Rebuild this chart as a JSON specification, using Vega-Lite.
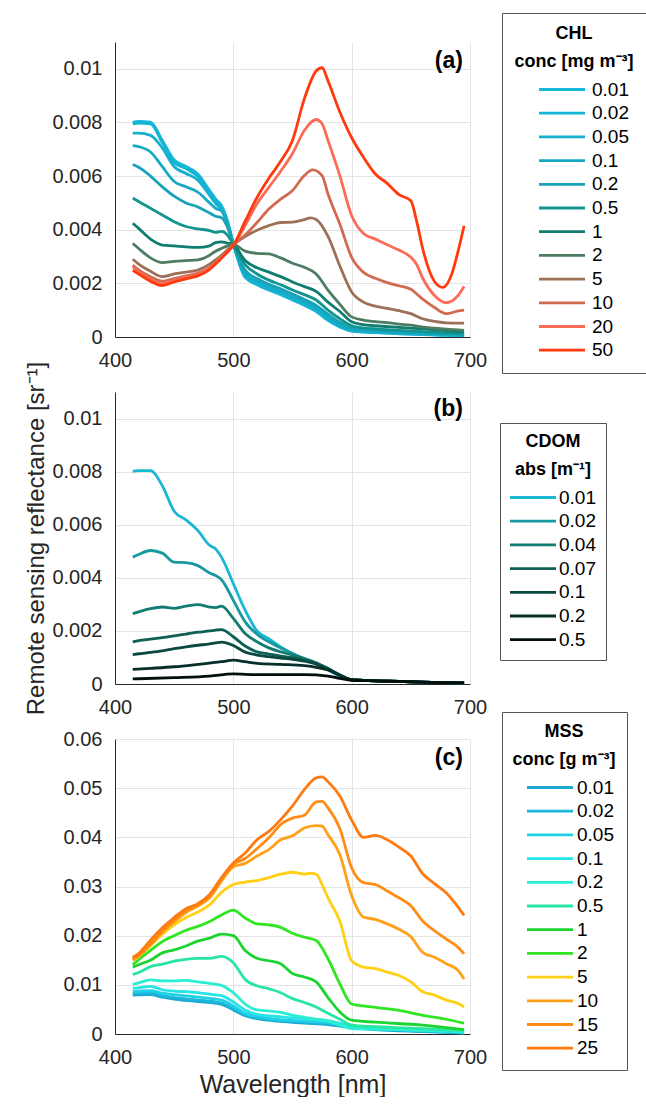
{
  "$schema": "https://vega.github.io/schema/vega-lite/v6.json",
  "background": "white",
  "padding": {"left": 24, "top": 12, "right": 0, "bottom": 0},
  "config": {
    "font": "Liberation Sans",
    "view": {"stroke": null},
    "axis": {
      "labelFont": "Liberation Sans", "labelFontSize": 20, "labelColor": "#262626", "labelFlush": false,
      "domainColor": "#262626", "domainWidth": 1, "gridColor": "#e4e4e4", "ticks": false,
      "labelPadding": 13, "titleFont": "Liberation Sans", "titleFontWeight": "normal",
      "titleColor": "#262626", "titleFontSize": 25
    },
    "legend": {
      "titleFont": "Liberation Sans", "titleFontSize": 18, "titleFontWeight": "bold", "titleColor": "#000000",
      "titleAnchor": "middle", "titleAlign": "center", "titleLineHeight": 28, "titlePadding": 9,
      "labelFont": "Liberation Sans", "labelFontSize": 19, "labelColor": "#000000",
      "strokeColor": "#555555", "fillColor": "white", "rowPadding": 3.7,
      "symbolType": "M-1.9,0H7.3", "symbolSize": 100, "symbolStrokeWidth": 3
    },
    "line": {"strokeWidth": 2.8, "interpolate": "monotone"}
  },
  "datasets": {
    "chl": [
      {"s":"0.01","w":415,"r":0.008},{"s":"0.01","w":420,"r":0.00804},{"s":"0.01","w":430,"r":0.00801},{"s":"0.01","w":440,"r":0.00733},{"s":"0.01","w":450,"r":0.0066},{"s":"0.01","w":460,"r":0.00636},{"s":"0.01","w":470,"r":0.00608},{"s":"0.01","w":480,"r":0.00546},{"s":"0.01","w":485,"r":0.00515},{"s":"0.01","w":490,"r":0.0049},{"s":"0.01","w":495,"r":0.00434},{"s":"0.01","w":500,"r":0.00349},{"s":"0.01","w":510,"r":0.00222},{"s":"0.01","w":520,"r":0.00195},{"s":"0.01","w":530,"r":0.00175},{"s":"0.01","w":540,"r":0.00158},{"s":"0.01","w":550,"r":0.00138},{"s":"0.01","w":560,"r":0.00118},{"s":"0.01","w":570,"r":0.00095},{"s":"0.01","w":580,"r":0.00062},{"s":"0.01","w":590,"r":0.00037},{"s":"0.01","w":600,"r":0.00022},{"s":"0.01","w":620,"r":0.00016},{"s":"0.01","w":640,"r":0.00012},{"s":"0.01","w":660,"r":0.00009},{"s":"0.01","w":680,"r":0.00006},{"s":"0.01","w":695,"r":0.00005},
      {"s":"0.02","w":415,"r":0.00795},{"s":"0.02","w":420,"r":0.00798},{"s":"0.02","w":430,"r":0.00795},{"s":"0.02","w":440,"r":0.00725},{"s":"0.02","w":450,"r":0.0065},{"s":"0.02","w":460,"r":0.00628},{"s":"0.02","w":470,"r":0.00598},{"s":"0.02","w":480,"r":0.00538},{"s":"0.02","w":485,"r":0.00508},{"s":"0.02","w":490,"r":0.00484},{"s":"0.02","w":495,"r":0.0043},{"s":"0.02","w":500,"r":0.00348},{"s":"0.02","w":510,"r":0.00225},{"s":"0.02","w":520,"r":0.00198},{"s":"0.02","w":530,"r":0.00178},{"s":"0.02","w":540,"r":0.00161},{"s":"0.02","w":550,"r":0.00141},{"s":"0.02","w":560,"r":0.00121},{"s":"0.02","w":570,"r":0.00098},{"s":"0.02","w":580,"r":0.00064},{"s":"0.02","w":590,"r":0.00039},{"s":"0.02","w":600,"r":0.00023},{"s":"0.02","w":620,"r":0.00017},{"s":"0.02","w":640,"r":0.00013},{"s":"0.02","w":660,"r":0.0001},{"s":"0.02","w":680,"r":0.00007},{"s":"0.02","w":695,"r":0.00006},
      {"s":"0.05","w":415,"r":0.0076},{"s":"0.05","w":420,"r":0.0076},{"s":"0.05","w":430,"r":0.00752},{"s":"0.05","w":440,"r":0.00705},{"s":"0.05","w":450,"r":0.00635},{"s":"0.05","w":460,"r":0.0061},{"s":"0.05","w":470,"r":0.00585},{"s":"0.05","w":480,"r":0.00528},{"s":"0.05","w":485,"r":0.00498},{"s":"0.05","w":490,"r":0.00475},{"s":"0.05","w":495,"r":0.00425},{"s":"0.05","w":500,"r":0.00347},{"s":"0.05","w":510,"r":0.0023},{"s":"0.05","w":520,"r":0.00202},{"s":"0.05","w":530,"r":0.00182},{"s":"0.05","w":540,"r":0.00165},{"s":"0.05","w":550,"r":0.00145},{"s":"0.05","w":560,"r":0.00125},{"s":"0.05","w":570,"r":0.00102},{"s":"0.05","w":580,"r":0.00068},{"s":"0.05","w":590,"r":0.00042},{"s":"0.05","w":600,"r":0.00025},{"s":"0.05","w":620,"r":0.00019},{"s":"0.05","w":640,"r":0.00015},{"s":"0.05","w":660,"r":0.00011},{"s":"0.05","w":680,"r":0.00008},{"s":"0.05","w":695,"r":0.00007},
      {"s":"0.1","w":415,"r":0.00714},{"s":"0.1","w":420,"r":0.0071},{"s":"0.1","w":430,"r":0.0069},{"s":"0.1","w":440,"r":0.00635},{"s":"0.1","w":450,"r":0.0058},{"s":"0.1","w":460,"r":0.0056},{"s":"0.1","w":470,"r":0.0054},{"s":"0.1","w":480,"r":0.005},{"s":"0.1","w":485,"r":0.0048},{"s":"0.1","w":490,"r":0.0047},{"s":"0.1","w":495,"r":0.0042},{"s":"0.1","w":500,"r":0.00346},{"s":"0.1","w":510,"r":0.00238},{"s":"0.1","w":520,"r":0.00208},{"s":"0.1","w":530,"r":0.00188},{"s":"0.1","w":540,"r":0.0017},{"s":"0.1","w":550,"r":0.0015},{"s":"0.1","w":560,"r":0.0013},{"s":"0.1","w":570,"r":0.00108},{"s":"0.1","w":580,"r":0.00074},{"s":"0.1","w":590,"r":0.00046},{"s":"0.1","w":600,"r":0.00028},{"s":"0.1","w":620,"r":0.00021},{"s":"0.1","w":640,"r":0.00017},{"s":"0.1","w":660,"r":0.00013},{"s":"0.1","w":680,"r":0.00009},{"s":"0.1","w":695,"r":0.00008},
      {"s":"0.2","w":415,"r":0.00643},{"s":"0.2","w":420,"r":0.00633},{"s":"0.2","w":430,"r":0.006},{"s":"0.2","w":440,"r":0.0056},{"s":"0.2","w":450,"r":0.00525},{"s":"0.2","w":460,"r":0.005},{"s":"0.2","w":470,"r":0.00485},{"s":"0.2","w":480,"r":0.00462},{"s":"0.2","w":485,"r":0.0045},{"s":"0.2","w":490,"r":0.00445},{"s":"0.2","w":495,"r":0.0041},{"s":"0.2","w":500,"r":0.00345},{"s":"0.2","w":510,"r":0.0025},{"s":"0.2","w":520,"r":0.00218},{"s":"0.2","w":530,"r":0.00197},{"s":"0.2","w":540,"r":0.0018},{"s":"0.2","w":550,"r":0.0016},{"s":"0.2","w":560,"r":0.0014},{"s":"0.2","w":570,"r":0.00118},{"s":"0.2","w":580,"r":0.00085},{"s":"0.2","w":590,"r":0.00055},{"s":"0.2","w":600,"r":0.00033},{"s":"0.2","w":620,"r":0.00026},{"s":"0.2","w":640,"r":0.00021},{"s":"0.2","w":660,"r":0.00016},{"s":"0.2","w":680,"r":0.00012},{"s":"0.2","w":695,"r":0.0001},
      {"s":"0.5","w":415,"r":0.00518},{"s":"0.5","w":420,"r":0.00505},{"s":"0.5","w":430,"r":0.0048},{"s":"0.5","w":440,"r":0.00455},{"s":"0.5","w":450,"r":0.0043},{"s":"0.5","w":460,"r":0.00412},{"s":"0.5","w":470,"r":0.00403},{"s":"0.5","w":480,"r":0.00397},{"s":"0.5","w":485,"r":0.0039},{"s":"0.5","w":490,"r":0.00394},{"s":"0.5","w":495,"r":0.0038},{"s":"0.5","w":500,"r":0.00345},{"s":"0.5","w":510,"r":0.0027},{"s":"0.5","w":520,"r":0.00235},{"s":"0.5","w":530,"r":0.00212},{"s":"0.5","w":540,"r":0.00195},{"s":"0.5","w":550,"r":0.00175},{"s":"0.5","w":560,"r":0.00158},{"s":"0.5","w":570,"r":0.00138},{"s":"0.5","w":580,"r":0.001},{"s":"0.5","w":590,"r":0.00068},{"s":"0.5","w":600,"r":0.00042},{"s":"0.5","w":610,"r":0.00034},{"s":"0.5","w":620,"r":0.0003},{"s":"0.5","w":640,"r":0.00025},{"s":"0.5","w":660,"r":0.0002},{"s":"0.5","w":680,"r":0.00015},{"s":"0.5","w":695,"r":0.00013},
      {"s":"1","w":415,"r":0.00424},{"s":"1","w":420,"r":0.00405},{"s":"1","w":430,"r":0.00365},{"s":"1","w":440,"r":0.00343},{"s":"1","w":450,"r":0.0034},{"s":"1","w":460,"r":0.00336},{"s":"1","w":470,"r":0.00334},{"s":"1","w":480,"r":0.0034},{"s":"1","w":485,"r":0.00352},{"s":"1","w":490,"r":0.00355},{"s":"1","w":495,"r":0.0035},{"s":"1","w":500,"r":0.00345},{"s":"1","w":510,"r":0.00285},{"s":"1","w":520,"r":0.00258},{"s":"1","w":530,"r":0.00242},{"s":"1","w":540,"r":0.00225},{"s":"1","w":550,"r":0.00205},{"s":"1","w":560,"r":0.00188},{"s":"1","w":570,"r":0.0017},{"s":"1","w":580,"r":0.0013},{"s":"1","w":590,"r":0.00095},{"s":"1","w":600,"r":0.00057},{"s":"1","w":610,"r":0.00046},{"s":"1","w":620,"r":0.00042},{"s":"1","w":640,"r":0.00036},{"s":"1","w":660,"r":0.0003},{"s":"1","w":680,"r":0.00024},{"s":"1","w":695,"r":0.0002},
      {"s":"2","w":415,"r":0.00349},{"s":"2","w":420,"r":0.0033},{"s":"2","w":430,"r":0.00295},{"s":"2","w":440,"r":0.00277},{"s":"2","w":450,"r":0.00282},{"s":"2","w":460,"r":0.00285},{"s":"2","w":470,"r":0.00288},{"s":"2","w":480,"r":0.00305},{"s":"2","w":485,"r":0.0032},{"s":"2","w":490,"r":0.0033},{"s":"2","w":495,"r":0.0034},{"s":"2","w":500,"r":0.00345},{"s":"2","w":510,"r":0.0032},{"s":"2","w":520,"r":0.00312},{"s":"2","w":530,"r":0.0031},{"s":"2","w":540,"r":0.00295},{"s":"2","w":550,"r":0.00275},{"s":"2","w":560,"r":0.0026},{"s":"2","w":570,"r":0.00235},{"s":"2","w":580,"r":0.00175},{"s":"2","w":590,"r":0.00122},{"s":"2","w":600,"r":0.00075},{"s":"2","w":610,"r":0.00063},{"s":"2","w":620,"r":0.00057},{"s":"2","w":630,"r":0.00054},{"s":"2","w":640,"r":0.00048},{"s":"2","w":650,"r":0.00044},{"s":"2","w":660,"r":0.00037},{"s":"2","w":670,"r":0.00033},{"s":"2","w":680,"r":0.00029},{"s":"2","w":695,"r":0.00025},
      {"s":"5","w":415,"r":0.0029},{"s":"5","w":420,"r":0.00272},{"s":"5","w":430,"r":0.00245},{"s":"5","w":440,"r":0.00225},{"s":"5","w":450,"r":0.00235},{"s":"5","w":460,"r":0.00242},{"s":"5","w":470,"r":0.0025},{"s":"5","w":480,"r":0.00272},{"s":"5","w":485,"r":0.00288},{"s":"5","w":490,"r":0.00305},{"s":"5","w":495,"r":0.00325},{"s":"5","w":500,"r":0.00345},{"s":"5","w":510,"r":0.00375},{"s":"5","w":520,"r":0.00398},{"s":"5","w":530,"r":0.00415},{"s":"5","w":540,"r":0.00427},{"s":"5","w":550,"r":0.00428},{"s":"5","w":560,"r":0.00438},{"s":"5","w":565,"r":0.00444},{"s":"5","w":570,"r":0.00438},{"s":"5","w":580,"r":0.00375},{"s":"5","w":590,"r":0.00265},{"s":"5","w":600,"r":0.00168},{"s":"5","w":610,"r":0.0013},{"s":"5","w":620,"r":0.00115},{"s":"5","w":630,"r":0.00107},{"s":"5","w":640,"r":0.00098},{"s":"5","w":650,"r":0.00087},{"s":"5","w":660,"r":0.00068},{"s":"5","w":670,"r":0.00058},{"s":"5","w":680,"r":0.00053},{"s":"5","w":690,"r":0.00052},{"s":"5","w":695,"r":0.00052},
      {"s":"10","w":415,"r":0.00268},{"s":"10","w":420,"r":0.0025},{"s":"10","w":430,"r":0.00225},{"s":"10","w":440,"r":0.00208},{"s":"10","w":450,"r":0.00218},{"s":"10","w":460,"r":0.00228},{"s":"10","w":470,"r":0.00238},{"s":"10","w":480,"r":0.0026},{"s":"10","w":485,"r":0.00278},{"s":"10","w":490,"r":0.00298},{"s":"10","w":495,"r":0.0032},{"s":"10","w":500,"r":0.00343},{"s":"10","w":510,"r":0.0038},{"s":"10","w":520,"r":0.00427},{"s":"10","w":530,"r":0.00477},{"s":"10","w":540,"r":0.00514},{"s":"10","w":550,"r":0.00546},{"s":"10","w":560,"r":0.00602},{"s":"10","w":567,"r":0.00623},{"s":"10","w":575,"r":0.00602},{"s":"10","w":580,"r":0.00533},{"s":"10","w":590,"r":0.00421},{"s":"10","w":600,"r":0.00297},{"s":"10","w":610,"r":0.00241},{"s":"10","w":620,"r":0.00219},{"s":"10","w":630,"r":0.00203},{"s":"10","w":640,"r":0.00191},{"s":"10","w":650,"r":0.00178},{"s":"10","w":660,"r":0.00141},{"s":"10","w":670,"r":0.0011},{"s":"10","w":680,"r":0.00087},{"s":"10","w":690,"r":0.00097},{"s":"10","w":695,"r":0.001},
      {"s":"20","w":415,"r":0.0026},{"s":"20","w":420,"r":0.00242},{"s":"20","w":430,"r":0.00215},{"s":"20","w":440,"r":0.002},{"s":"20","w":450,"r":0.0021},{"s":"20","w":460,"r":0.00222},{"s":"20","w":470,"r":0.00233},{"s":"20","w":480,"r":0.00257},{"s":"20","w":485,"r":0.00275},{"s":"20","w":490,"r":0.00296},{"s":"20","w":495,"r":0.00318},{"s":"20","w":500,"r":0.00342},{"s":"20","w":510,"r":0.00416},{"s":"20","w":520,"r":0.00497},{"s":"20","w":530,"r":0.00558},{"s":"20","w":540,"r":0.00618},{"s":"20","w":550,"r":0.00684},{"s":"20","w":560,"r":0.0077},{"s":"20","w":570,"r":0.00811},{"s":"20","w":575,"r":0.00795},{"s":"20","w":580,"r":0.00733},{"s":"20","w":590,"r":0.00602},{"s":"20","w":600,"r":0.00452},{"s":"20","w":610,"r":0.00386},{"s":"20","w":620,"r":0.00365},{"s":"20","w":630,"r":0.00344},{"s":"20","w":640,"r":0.00324},{"s":"20","w":650,"r":0.00297},{"s":"20","w":655,"r":0.0027},{"s":"20","w":660,"r":0.0022},{"s":"20","w":670,"r":0.00155},{"s":"20","w":680,"r":0.00128},{"s":"20","w":690,"r":0.00155},{"s":"20","w":695,"r":0.00188},
      {"s":"50","w":415,"r":0.00248},{"s":"50","w":420,"r":0.00235},{"s":"50","w":430,"r":0.00208},{"s":"50","w":440,"r":0.00192},{"s":"50","w":450,"r":0.00205},{"s":"50","w":460,"r":0.00217},{"s":"50","w":470,"r":0.00228},{"s":"50","w":480,"r":0.00252},{"s":"50","w":485,"r":0.00272},{"s":"50","w":490,"r":0.00294},{"s":"50","w":495,"r":0.00317},{"s":"50","w":500,"r":0.00342},{"s":"50","w":510,"r":0.00432},{"s":"50","w":520,"r":0.0052},{"s":"50","w":530,"r":0.00592},{"s":"50","w":540,"r":0.00655},{"s":"50","w":550,"r":0.00733},{"s":"50","w":560,"r":0.00888},{"s":"50","w":570,"r":0.00992},{"s":"50","w":575,"r":0.01004},{"s":"50","w":580,"r":0.00955},{"s":"50","w":590,"r":0.00839},{"s":"50","w":600,"r":0.00743},{"s":"50","w":610,"r":0.0067},{"s":"50","w":620,"r":0.00608},{"s":"50","w":630,"r":0.00573},{"s":"50","w":640,"r":0.00531},{"s":"50","w":650,"r":0.00508},{"s":"50","w":655,"r":0.0043},{"s":"50","w":660,"r":0.0033},{"s":"50","w":670,"r":0.00207},{"s":"50","w":677,"r":0.00185},{"s":"50","w":685,"r":0.0024},{"s":"50","w":690,"r":0.00321},{"s":"50","w":695,"r":0.00415}
    ],
    "cdom": [
      {"s":"0.01","w":415,"r":0.00801},{"s":"0.01","w":420,"r":0.00804},{"s":"0.01","w":430,"r":0.00804},{"s":"0.01","w":440,"r":0.00747},{"s":"0.01","w":450,"r":0.00651},{"s":"0.01","w":460,"r":0.00618},{"s":"0.01","w":470,"r":0.00578},{"s":"0.01","w":480,"r":0.00522},{"s":"0.01","w":485,"r":0.00509},{"s":"0.01","w":490,"r":0.00478},{"s":"0.01","w":500,"r":0.00378},{"s":"0.01","w":510,"r":0.00278},{"s":"0.01","w":520,"r":0.002},{"s":"0.01","w":530,"r":0.00171},{"s":"0.01","w":540,"r":0.0014},{"s":"0.01","w":550,"r":0.00115},{"s":"0.01","w":560,"r":0.00094},{"s":"0.01","w":570,"r":0.00075},{"s":"0.01","w":580,"r":0.00053},{"s":"0.01","w":590,"r":0.0003},{"s":"0.01","w":600,"r":0.00016},{"s":"0.01","w":610,"r":0.00014},{"s":"0.01","w":620,"r":0.00012},{"s":"0.01","w":640,"r":0.0001},{"s":"0.01","w":660,"r":0.00007},{"s":"0.01","w":680,"r":0.00005},{"s":"0.01","w":695,"r":0.00004},
      {"s":"0.02","w":415,"r":0.00478},{"s":"0.02","w":420,"r":0.00488},{"s":"0.02","w":430,"r":0.00503},{"s":"0.02","w":440,"r":0.00493},{"s":"0.02","w":450,"r":0.00459},{"s":"0.02","w":460,"r":0.00457},{"s":"0.02","w":470,"r":0.00446},{"s":"0.02","w":480,"r":0.00418},{"s":"0.02","w":485,"r":0.00409},{"s":"0.02","w":490,"r":0.00393},{"s":"0.02","w":500,"r":0.00315},{"s":"0.02","w":510,"r":0.00234},{"s":"0.02","w":520,"r":0.00188},{"s":"0.02","w":530,"r":0.00159},{"s":"0.02","w":540,"r":0.00136},{"s":"0.02","w":550,"r":0.00115},{"s":"0.02","w":560,"r":0.00096},{"s":"0.02","w":570,"r":0.00078},{"s":"0.02","w":580,"r":0.00055},{"s":"0.02","w":590,"r":0.00031},{"s":"0.02","w":600,"r":0.00016},{"s":"0.02","w":610,"r":0.00014},{"s":"0.02","w":620,"r":0.00012},{"s":"0.02","w":640,"r":0.0001},{"s":"0.02","w":660,"r":0.00007},{"s":"0.02","w":680,"r":0.00005},{"s":"0.02","w":695,"r":0.00004},
      {"s":"0.04","w":415,"r":0.00265},{"s":"0.04","w":420,"r":0.00272},{"s":"0.04","w":430,"r":0.00284},{"s":"0.04","w":440,"r":0.0029},{"s":"0.04","w":450,"r":0.00285},{"s":"0.04","w":460,"r":0.00293},{"s":"0.04","w":470,"r":0.00299},{"s":"0.04","w":480,"r":0.0029},{"s":"0.04","w":485,"r":0.00288},{"s":"0.04","w":490,"r":0.00293},{"s":"0.04","w":500,"r":0.00247},{"s":"0.04","w":510,"r":0.0019},{"s":"0.04","w":520,"r":0.00159},{"s":"0.04","w":530,"r":0.00136},{"s":"0.04","w":540,"r":0.00121},{"s":"0.04","w":550,"r":0.00109},{"s":"0.04","w":560,"r":0.00096},{"s":"0.04","w":570,"r":0.0008},{"s":"0.04","w":580,"r":0.00058},{"s":"0.04","w":590,"r":0.00034},{"s":"0.04","w":600,"r":0.00016},{"s":"0.04","w":610,"r":0.00014},{"s":"0.04","w":620,"r":0.00012},{"s":"0.04","w":640,"r":0.0001},{"s":"0.04","w":660,"r":0.00007},{"s":"0.04","w":680,"r":0.00005},{"s":"0.04","w":695,"r":0.00004},
      {"s":"0.07","w":415,"r":0.00159},{"s":"0.07","w":420,"r":0.00163},{"s":"0.07","w":430,"r":0.00169},{"s":"0.07","w":440,"r":0.00175},{"s":"0.07","w":450,"r":0.00181},{"s":"0.07","w":460,"r":0.00188},{"s":"0.07","w":470,"r":0.00195},{"s":"0.07","w":480,"r":0.002},{"s":"0.07","w":485,"r":0.00203},{"s":"0.07","w":490,"r":0.00205},{"s":"0.07","w":500,"r":0.00178},{"s":"0.07","w":510,"r":0.00143},{"s":"0.07","w":520,"r":0.00121},{"s":"0.07","w":530,"r":0.00113},{"s":"0.07","w":540,"r":0.00105},{"s":"0.07","w":550,"r":0.00099},{"s":"0.07","w":560,"r":0.0009},{"s":"0.07","w":570,"r":0.00078},{"s":"0.07","w":580,"r":0.00058},{"s":"0.07","w":590,"r":0.00034},{"s":"0.07","w":600,"r":0.00016},{"s":"0.07","w":610,"r":0.00014},{"s":"0.07","w":620,"r":0.00012},{"s":"0.07","w":640,"r":0.0001},{"s":"0.07","w":660,"r":0.00007},{"s":"0.07","w":680,"r":0.00005},{"s":"0.07","w":695,"r":0.00004},
      {"s":"0.1","w":415,"r":0.00111},{"s":"0.1","w":420,"r":0.00114},{"s":"0.1","w":430,"r":0.00119},{"s":"0.1","w":440,"r":0.00125},{"s":"0.1","w":450,"r":0.00133},{"s":"0.1","w":460,"r":0.0014},{"s":"0.1","w":470,"r":0.00146},{"s":"0.1","w":480,"r":0.00151},{"s":"0.1","w":485,"r":0.00155},{"s":"0.1","w":490,"r":0.00158},{"s":"0.1","w":500,"r":0.00145},{"s":"0.1","w":510,"r":0.0012},{"s":"0.1","w":520,"r":0.00109},{"s":"0.1","w":530,"r":0.00103},{"s":"0.1","w":540,"r":0.00098},{"s":"0.1","w":550,"r":0.00093},{"s":"0.1","w":560,"r":0.00086},{"s":"0.1","w":570,"r":0.00075},{"s":"0.1","w":580,"r":0.00056},{"s":"0.1","w":590,"r":0.00034},{"s":"0.1","w":600,"r":0.00016},{"s":"0.1","w":610,"r":0.00014},{"s":"0.1","w":620,"r":0.00012},{"s":"0.1","w":640,"r":0.0001},{"s":"0.1","w":660,"r":0.00007},{"s":"0.1","w":680,"r":0.00005},{"s":"0.1","w":695,"r":0.00004},
      {"s":"0.2","w":415,"r":0.00055},{"s":"0.2","w":430,"r":0.00059},{"s":"0.2","w":450,"r":0.00065},{"s":"0.2","w":470,"r":0.00074},{"s":"0.2","w":490,"r":0.00084},{"s":"0.2","w":500,"r":0.0009},{"s":"0.2","w":510,"r":0.00084},{"s":"0.2","w":520,"r":0.00078},{"s":"0.2","w":540,"r":0.00074},{"s":"0.2","w":560,"r":0.00069},{"s":"0.2","w":570,"r":0.00063},{"s":"0.2","w":580,"r":0.00053},{"s":"0.2","w":590,"r":0.00033},{"s":"0.2","w":600,"r":0.00016},{"s":"0.2","w":610,"r":0.00014},{"s":"0.2","w":620,"r":0.00012},{"s":"0.2","w":640,"r":0.0001},{"s":"0.2","w":660,"r":0.00007},{"s":"0.2","w":680,"r":0.00005},{"s":"0.2","w":695,"r":0.00004},
      {"s":"0.5","w":415,"r":0.00019},{"s":"0.5","w":450,"r":0.00024},{"s":"0.5","w":480,"r":0.0003},{"s":"0.5","w":500,"r":0.00038},{"s":"0.5","w":520,"r":0.00035},{"s":"0.5","w":560,"r":0.00035},{"s":"0.5","w":580,"r":0.0003},{"s":"0.5","w":590,"r":0.00021},{"s":"0.5","w":600,"r":0.00014},{"s":"0.5","w":610,"r":0.00013},{"s":"0.5","w":620,"r":0.00012},{"s":"0.5","w":640,"r":0.0001},{"s":"0.5","w":660,"r":0.00007},{"s":"0.5","w":680,"r":0.00005},{"s":"0.5","w":695,"r":0.00004}
    ],
    "mss": [
      {"s":"0.01","w":415,"r":0.0079},{"s":"0.01","w":430,"r":0.008},{"s":"0.01","w":440,"r":0.0075},{"s":"0.01","w":450,"r":0.0071},{"s":"0.01","w":470,"r":0.0066},{"s":"0.01","w":490,"r":0.006},{"s":"0.01","w":500,"r":0.0049},{"s":"0.01","w":510,"r":0.0037},{"s":"0.01","w":530,"r":0.0028},{"s":"0.01","w":560,"r":0.0022},{"s":"0.01","w":580,"r":0.0019},{"s":"0.01","w":590,"r":0.0016},{"s":"0.01","w":600,"r":0.0013},{"s":"0.01","w":620,"r":0.0009},{"s":"0.01","w":660,"r":0.0005},{"s":"0.01","w":695,"r":0.0002},
      {"s":"0.02","w":415,"r":0.0082},{"s":"0.02","w":430,"r":0.0083},{"s":"0.02","w":440,"r":0.0078},{"s":"0.02","w":450,"r":0.0074},{"s":"0.02","w":470,"r":0.0069},{"s":"0.02","w":490,"r":0.0063},{"s":"0.02","w":500,"r":0.0052},{"s":"0.02","w":510,"r":0.0039},{"s":"0.02","w":530,"r":0.003},{"s":"0.02","w":560,"r":0.0024},{"s":"0.02","w":580,"r":0.0021},{"s":"0.02","w":590,"r":0.0017},{"s":"0.02","w":600,"r":0.0014},{"s":"0.02","w":620,"r":0.001},{"s":"0.02","w":660,"r":0.0006},{"s":"0.02","w":695,"r":0.00025},
      {"s":"0.05","w":415,"r":0.0086},{"s":"0.05","w":430,"r":0.0088},{"s":"0.05","w":440,"r":0.0083},{"s":"0.05","w":450,"r":0.008},{"s":"0.05","w":470,"r":0.0075},{"s":"0.05","w":490,"r":0.0069},{"s":"0.05","w":500,"r":0.0057},{"s":"0.05","w":510,"r":0.0042},{"s":"0.05","w":530,"r":0.0032},{"s":"0.05","w":560,"r":0.0026},{"s":"0.05","w":580,"r":0.0023},{"s":"0.05","w":590,"r":0.0019},{"s":"0.05","w":600,"r":0.0015},{"s":"0.05","w":620,"r":0.0011},{"s":"0.05","w":660,"r":0.0007},{"s":"0.05","w":695,"r":0.0003},
      {"s":"0.1","w":415,"r":0.0093},{"s":"0.1","w":420,"r":0.0094},{"s":"0.1","w":430,"r":0.0097},{"s":"0.1","w":440,"r":0.009},{"s":"0.1","w":450,"r":0.0087},{"s":"0.1","w":460,"r":0.0086},{"s":"0.1","w":470,"r":0.0084},{"s":"0.1","w":480,"r":0.0081},{"s":"0.1","w":490,"r":0.0078},{"s":"0.1","w":500,"r":0.0065},{"s":"0.1","w":510,"r":0.0049},{"s":"0.1","w":520,"r":0.004},{"s":"0.1","w":540,"r":0.0035},{"s":"0.1","w":560,"r":0.0031},{"s":"0.1","w":580,"r":0.0027},{"s":"0.1","w":590,"r":0.0022},{"s":"0.1","w":600,"r":0.0017},{"s":"0.1","w":620,"r":0.0012},{"s":"0.1","w":660,"r":0.0008},{"s":"0.1","w":695,"r":0.0004},
      {"s":"0.2","w":415,"r":0.0101},{"s":"0.2","w":420,"r":0.0104},{"s":"0.2","w":430,"r":0.011},{"s":"0.2","w":440,"r":0.0108},{"s":"0.2","w":450,"r":0.0108},{"s":"0.2","w":460,"r":0.0109},{"s":"0.2","w":470,"r":0.0106},{"s":"0.2","w":480,"r":0.0103},{"s":"0.2","w":490,"r":0.0099},{"s":"0.2","w":500,"r":0.0084},{"s":"0.2","w":510,"r":0.0061},{"s":"0.2","w":520,"r":0.0049},{"s":"0.2","w":530,"r":0.0047},{"s":"0.2","w":540,"r":0.0044},{"s":"0.2","w":550,"r":0.0038},{"s":"0.2","w":560,"r":0.0034},{"s":"0.2","w":570,"r":0.003},{"s":"0.2","w":580,"r":0.0026},{"s":"0.2","w":590,"r":0.0018},{"s":"0.2","w":600,"r":0.0011},{"s":"0.2","w":640,"r":0.0009},{"s":"0.2","w":695,"r":0.0005},
      {"s":"0.5","w":415,"r":0.0121},{"s":"0.5","w":420,"r":0.0125},{"s":"0.5","w":430,"r":0.0137},{"s":"0.5","w":440,"r":0.0142},{"s":"0.5","w":450,"r":0.0148},{"s":"0.5","w":460,"r":0.0152},{"s":"0.5","w":470,"r":0.0154},{"s":"0.5","w":480,"r":0.0154},{"s":"0.5","w":490,"r":0.0158},{"s":"0.5","w":500,"r":0.0145},{"s":"0.5","w":510,"r":0.0111},{"s":"0.5","w":520,"r":0.0098},{"s":"0.5","w":530,"r":0.0092},{"s":"0.5","w":540,"r":0.0084},{"s":"0.5","w":550,"r":0.0072},{"s":"0.5","w":560,"r":0.0064},{"s":"0.5","w":570,"r":0.0055},{"s":"0.5","w":580,"r":0.0042},{"s":"0.5","w":590,"r":0.003},{"s":"0.5","w":600,"r":0.0018},{"s":"0.5","w":620,"r":0.0015},{"s":"0.5","w":660,"r":0.0011},{"s":"0.5","w":695,"r":0.0007},
      {"s":"1","w":415,"r":0.0136},{"s":"1","w":420,"r":0.0141},{"s":"1","w":430,"r":0.015},{"s":"1","w":440,"r":0.0165},{"s":"1","w":450,"r":0.0171},{"s":"1","w":460,"r":0.0179},{"s":"1","w":470,"r":0.0189},{"s":"1","w":480,"r":0.0195},{"s":"1","w":490,"r":0.0203},{"s":"1","w":500,"r":0.02},{"s":"1","w":510,"r":0.017},{"s":"1","w":520,"r":0.0154},{"s":"1","w":530,"r":0.0149},{"s":"1","w":540,"r":0.0143},{"s":"1","w":550,"r":0.0123},{"s":"1","w":560,"r":0.0116},{"s":"1","w":570,"r":0.0106},{"s":"1","w":580,"r":0.0074},{"s":"1","w":590,"r":0.0045},{"s":"1","w":600,"r":0.0028},{"s":"1","w":620,"r":0.0024},{"s":"1","w":660,"r":0.0018},{"s":"1","w":695,"r":0.0009},
      {"s":"2","w":415,"r":0.0141},{"s":"2","w":420,"r":0.0151},{"s":"2","w":430,"r":0.017},{"s":"2","w":440,"r":0.0188},{"s":"2","w":450,"r":0.02},{"s":"2","w":460,"r":0.0211},{"s":"2","w":470,"r":0.0219},{"s":"2","w":480,"r":0.0229},{"s":"2","w":490,"r":0.0242},{"s":"2","w":500,"r":0.0252},{"s":"2","w":510,"r":0.0236},{"s":"2","w":520,"r":0.0224},{"s":"2","w":530,"r":0.0222},{"s":"2","w":540,"r":0.0217},{"s":"2","w":550,"r":0.0205},{"s":"2","w":560,"r":0.0197},{"s":"2","w":570,"r":0.019},{"s":"2","w":580,"r":0.0153},{"s":"2","w":590,"r":0.0102},{"s":"2","w":600,"r":0.0061},{"s":"2","w":610,"r":0.0057},{"s":"2","w":620,"r":0.0054},{"s":"2","w":640,"r":0.0048},{"s":"2","w":660,"r":0.0038},{"s":"2","w":680,"r":0.003},{"s":"2","w":695,"r":0.0022},
      {"s":"5","w":415,"r":0.0151},{"s":"5","w":420,"r":0.0158},{"s":"5","w":430,"r":0.018},{"s":"5","w":440,"r":0.0203},{"s":"5","w":450,"r":0.0222},{"s":"5","w":460,"r":0.0237},{"s":"5","w":470,"r":0.0248},{"s":"5","w":480,"r":0.0263},{"s":"5","w":490,"r":0.0288},{"s":"5","w":500,"r":0.0304},{"s":"5","w":510,"r":0.0309},{"s":"5","w":520,"r":0.0312},{"s":"5","w":530,"r":0.0318},{"s":"5","w":540,"r":0.0325},{"s":"5","w":550,"r":0.0329},{"s":"5","w":560,"r":0.0325},{"s":"5","w":565,"r":0.0327},{"s":"5","w":570,"r":0.0325},{"s":"5","w":575,"r":0.0304},{"s":"5","w":580,"r":0.0277},{"s":"5","w":590,"r":0.023},{"s":"5","w":600,"r":0.0149},{"s":"5","w":610,"r":0.0136},{"s":"5","w":620,"r":0.0133},{"s":"5","w":630,"r":0.0126},{"s":"5","w":640,"r":0.0119},{"s":"5","w":650,"r":0.0106},{"s":"5","w":660,"r":0.0086},{"s":"5","w":670,"r":0.0079},{"s":"5","w":680,"r":0.0069},{"s":"5","w":690,"r":0.0062},{"s":"5","w":695,"r":0.0055},
      {"s":"10","w":415,"r":0.015},{"s":"10","w":420,"r":0.0158},{"s":"10","w":430,"r":0.0181},{"s":"10","w":440,"r":0.0207},{"s":"10","w":450,"r":0.0228},{"s":"10","w":460,"r":0.0247},{"s":"10","w":470,"r":0.026},{"s":"10","w":480,"r":0.0277},{"s":"10","w":490,"r":0.0311},{"s":"10","w":500,"r":0.034},{"s":"10","w":510,"r":0.0347},{"s":"10","w":520,"r":0.0362},{"s":"10","w":530,"r":0.0375},{"s":"10","w":540,"r":0.0395},{"s":"10","w":550,"r":0.0403},{"s":"10","w":560,"r":0.0419},{"s":"10","w":570,"r":0.0424},{"s":"10","w":575,"r":0.0423},{"s":"10","w":580,"r":0.0405},{"s":"10","w":590,"r":0.0365},{"s":"10","w":600,"r":0.0281},{"s":"10","w":610,"r":0.0238},{"s":"10","w":620,"r":0.0233},{"s":"10","w":630,"r":0.0224},{"s":"10","w":640,"r":0.0213},{"s":"10","w":650,"r":0.0198},{"s":"10","w":660,"r":0.0166},{"s":"10","w":670,"r":0.0156},{"s":"10","w":680,"r":0.0143},{"s":"10","w":690,"r":0.0129},{"s":"10","w":695,"r":0.0112},
      {"s":"15","w":415,"r":0.0153},{"s":"15","w":420,"r":0.0161},{"s":"15","w":430,"r":0.0183},{"s":"15","w":440,"r":0.021},{"s":"15","w":450,"r":0.0232},{"s":"15","w":460,"r":0.0251},{"s":"15","w":470,"r":0.0263},{"s":"15","w":480,"r":0.0281},{"s":"15","w":490,"r":0.0315},{"s":"15","w":500,"r":0.0345},{"s":"15","w":510,"r":0.0357},{"s":"15","w":520,"r":0.0377},{"s":"15","w":530,"r":0.0399},{"s":"15","w":540,"r":0.0426},{"s":"15","w":550,"r":0.0439},{"s":"15","w":560,"r":0.0445},{"s":"15","w":570,"r":0.0472},{"s":"15","w":575,"r":0.0473},{"s":"15","w":580,"r":0.046},{"s":"15","w":590,"r":0.0418},{"s":"15","w":600,"r":0.0338},{"s":"15","w":610,"r":0.0308},{"s":"15","w":620,"r":0.0304},{"s":"15","w":630,"r":0.0291},{"s":"15","w":640,"r":0.0277},{"s":"15","w":650,"r":0.0261},{"s":"15","w":660,"r":0.023},{"s":"15","w":670,"r":0.021},{"s":"15","w":680,"r":0.0193},{"s":"15","w":690,"r":0.0176},{"s":"15","w":695,"r":0.0163},
      {"s":"25","w":415,"r":0.0156},{"s":"25","w":420,"r":0.0164},{"s":"25","w":430,"r":0.0191},{"s":"25","w":440,"r":0.0216},{"s":"25","w":450,"r":0.0237},{"s":"25","w":460,"r":0.0255},{"s":"25","w":470,"r":0.0265},{"s":"25","w":480,"r":0.0284},{"s":"25","w":490,"r":0.0318},{"s":"25","w":500,"r":0.0348},{"s":"25","w":510,"r":0.0368},{"s":"25","w":520,"r":0.0395},{"s":"25","w":530,"r":0.0412},{"s":"25","w":540,"r":0.0436},{"s":"25","w":550,"r":0.0464},{"s":"25","w":560,"r":0.0497},{"s":"25","w":570,"r":0.0521},{"s":"25","w":575,"r":0.0523},{"s":"25","w":580,"r":0.0513},{"s":"25","w":590,"r":0.0484},{"s":"25","w":600,"r":0.0435},{"s":"25","w":610,"r":0.04},{"s":"25","w":620,"r":0.0404},{"s":"25","w":630,"r":0.0395},{"s":"25","w":640,"r":0.038},{"s":"25","w":650,"r":0.0362},{"s":"25","w":660,"r":0.0326},{"s":"25","w":670,"r":0.0306},{"s":"25","w":680,"r":0.0287},{"s":"25","w":690,"r":0.0258},{"s":"25","w":695,"r":0.0241}
    ]
  },
  "spacing": 55,
  "bounds": "flush",
  "resolve": {"scale": {"color": "independent"}},
  "vconcat": [
    {
      "width": 355, "height": 295,
      "layer": [
        {
          "data": {"name": "chl"},
          "mark": {"type": "line"},
          "encoding": {
            "x": {"field": "w", "type": "quantitative", "scale": {"domain": [400, 700], "nice": false}, "axis": {"values": [400, 500, 600, 700], "title": null}},
            "y": {"field": "r", "type": "quantitative", "scale": {"domain": [0, 0.011], "nice": false}, "axis": {"values": [0, 0.002, 0.004, 0.006, 0.008, 0.01], "format": ".3~f", "title": null}},
            "color": {
              "field": "s", "type": "nominal",
              "scale": {"domain": ["0.01","0.02","0.05","0.1","0.2","0.5","1","2","5","10","20","50"],
                        "range": ["#14b8d8","#14b5d4","#15b0cd","#16aac5","#16a3b8","#129591","#0f7d6f","#4d7c63","#9d7058","#d26a52","#fc6b56","#ff3a0c"]},
              "legend": {"orient": "none", "legendX": 387, "legendY": -29, "title": ["CHL", "conc [mg m⁻³]"], "padding": 12, "symbolOffset": 20, "labelOffset": 34}
            }
          }
        },
        {
          "data": {"values": [{}]},
          "mark": {"type": "text", "align": "right", "baseline": "middle", "fontSize": 23, "fontWeight": "bold", "color": "#000000"},
          "encoding": {"x": {"datum": 694, "type": "quantitative"}, "y": {"datum": 0.01028, "type": "quantitative"}, "text": {"value": "(a)"}}
        }
      ]
    },
    {
      "width": 355, "height": 292,
      "layer": [
        {
          "data": {"name": "cdom"},
          "mark": {"type": "line"},
          "encoding": {
            "x": {"field": "w", "type": "quantitative", "scale": {"domain": [400, 700], "nice": false}, "axis": {"values": [400, 500, 600, 700], "title": null}},
            "y": {"field": "r", "type": "quantitative", "scale": {"domain": [0, 0.011], "nice": false}, "axis": {"values": [0, 0.002, 0.004, 0.006, 0.008, 0.01], "format": ".3~f", "title": "Remote sensing reflectance [sr⁻¹]", "titleFontSize": 24, "titlePadding": 3}},
            "color": {
              "field": "s", "type": "nominal",
              "scale": {"domain": ["0.01","0.02","0.04","0.07","0.1","0.2","0.5"],
                        "range": ["#1ab7d3","#17999f","#127b72","#0e6055","#0b4840","#072e29","#030f0d"]},
              "legend": {"orient": "none", "legendX": 385, "legendY": 31, "title": ["CDOM", "abs [m⁻¹]"], "padding": 10, "symbolOffset": 0, "labelOffset": 30}
            }
          }
        },
        {
          "data": {"values": [{}]},
          "mark": {"type": "text", "align": "right", "baseline": "middle", "fontSize": 23, "fontWeight": "bold", "color": "#000000"},
          "encoding": {"x": {"datum": 694, "type": "quantitative"}, "y": {"datum": 0.01036, "type": "quantitative"}, "text": {"value": "(b)"}}
        }
      ]
    },
    {
      "width": 355, "height": 295,
      "layer": [
        {
          "data": {"name": "mss"},
          "mark": {"type": "line"},
          "encoding": {
            "x": {"field": "w", "type": "quantitative", "scale": {"domain": [400, 700], "nice": false}, "axis": {"values": [400, 500, 600, 700], "title": "Wavelength [nm]", "titleFontSize": 25, "titlePadding": 5}},
            "y": {"field": "r", "type": "quantitative", "scale": {"domain": [0, 0.06], "nice": false}, "axis": {"values": [0, 0.01, 0.02, 0.03, 0.04, 0.05, 0.06], "format": ".2~f", "title": null}},
            "color": {
              "field": "s", "type": "nominal",
              "scale": {"domain": ["0.01","0.02","0.05","0.1","0.2","0.5","1","2","5","10","15","25"],
                        "range": ["#1aa8d0","#1cb6da","#20d0e6","#26e4e8","#2aefd2","#26e6a0","#1cd430","#30e622","#ffd014","#ffa018","#ff8c14","#ff7a10"]},
              "legend": {"orient": "none", "legendX": 387, "legendY": -27, "title": ["MSS", "conc [g m⁻³]"], "padding": 11, "symbolOffset": 12, "labelOffset": 31}
            }
          }
        },
        {
          "data": {"values": [{}]},
          "mark": {"type": "text", "align": "right", "baseline": "middle", "fontSize": 23, "fontWeight": "bold", "color": "#000000"},
          "encoding": {"x": {"datum": 694, "type": "quantitative"}, "y": {"datum": 0.0561, "type": "quantitative"}, "text": {"value": "(c)"}}
        }
      ]
    }
  ]
}
